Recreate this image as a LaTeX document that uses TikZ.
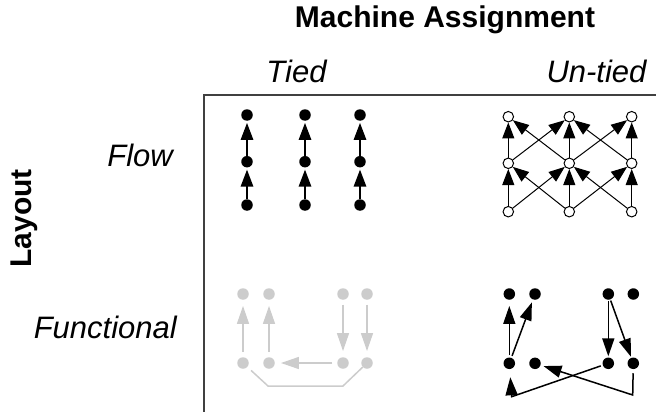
\documentclass[tikz,border=0pt]{standalone}
\usepackage{fontspec}
\setmainfont{Liberation Sans}
\usetikzlibrary{arrows.meta}
\definecolor{lightg}{HTML}{CCCCCC}
\definecolor{framec}{HTML}{404040}
\begin{document}
\begin{tikzpicture}[x=1pt,y=-1pt,
  lbl/.style={font=\fontsize{31}{36}\selectfont\itshape, inner sep=0},
  blbl/.style={font=\fontsize{30}{35}\selectfont\bfseries, inner sep=0},
  dot/.style={circle,fill=black,inner sep=0,minimum size=11.5pt},
  gdot/.style={circle,fill=lightg,inner sep=0,minimum size=11.5pt},
  odot/.style={circle,draw=black,fill=white,line width=1pt,inner sep=0,minimum size=10.5pt},
  tarr/.style={-{Triangle[length=17pt,width=12.5pt]}, line width=1.5pt, shorten >=2pt},
  uarr/.style={-{Triangle[length=16pt,width=12pt]}, line width=1pt},
  garr/.style={-{Triangle[length=18pt,width=12pt]}, line width=1.5pt, draw=lightg, fill=lightg, shorten >=6pt, shorten <=5pt},
  farr/.style={-{Triangle[length=18pt,width=12pt]}, line width=1.5pt},
  gline/.style={line width=1.5pt, draw=lightg},
  frame/.style={line width=1.6pt, draw=framec}]
\useasboundingbox (0,0) rectangle (656,412);

% labels
\node[blbl, anchor=base] (title) at (445,28) {Machine Assignment};
\node[lbl, anchor=base] (tied) at (296.5,83) {Tied};
\node[lbl, anchor=base] (untied) at (596.5,83) {Un-tied};
\node[blbl, anchor=base, rotate=90] (layout) at (31,218.5) {Layout};
\node[lbl, anchor=base east] (flow) at (173,166) {Flow};
\node[lbl, anchor=base east] (functional) at (177,338) {Functional};

% frame
\coordinate (fbl) at (204,412);
\coordinate (ftl) at (204,95);
\coordinate (ftr) at (656,95);
\draw[frame] (fbl) -- (ftl) -- (ftr);

% Tied / Flow
\foreach \c/\x in {1/247,2/305,3/360}{
  \node[dot] (tt\c) at (\x,115) {};
  \node[dot] (tm\c) at (\x,161.7) {};
  \node[dot] (tb\c) at (\x,205) {};
  \draw[tarr] (tb\c) -- (tm\c);
  \draw[tarr] (tm\c) -- (tt\c);
}

% Un-tied / Flow
\foreach \c/\x in {1/508.3,2/569.3,3/631.7}{
  \node[odot] (ut\c) at (\x,116.7) {};
  \node[odot] (um\c) at (\x,163.3) {};
  \node[odot] (ub\c) at (\x,211.7) {};
}
\foreach \a/\b in {1/1,1/2,2/1,2/2,2/3,3/2,3/3}{
  \draw[uarr] (ub\a) -- (um\b);
  \draw[uarr] (um\a) -- (ut\b);
}

% Tied / Functional (grey)
\foreach \c/\x in {1/243,2/269,3/343,4/367}{
  \node[gdot] (gt\c) at (\x,294) {};
  \node[gdot] (gb\c) at (\x,363) {};
}
\draw[garr] (gb1) -- (gt1);
\draw[garr] (gb2) -- (gt2);
\draw[garr] (gt3) -- (gb3);
\draw[garr] (gt4) -- (gb4);
\draw[garr] (gb3) -- (gb2);
\coordinate (gc1) at (268,386);
\coordinate (gc2) at (343,386);
\draw[gline, shorten <=5pt] (gb1) -- (gc1) -- (gc2) -- (gb4);

% Un-tied / Functional
\foreach \c/\x in {1/509.3,2/535,3/608.3,4/633.3}{
  \node[dot] (ft\c) at (\x,294) {};
  \node[dot] (fb\c) at (\x,363.3) {};
}
\draw[farr, shorten >=6pt, shorten <=2pt] (fb1) -- (ft1);
\draw[farr, shorten >=3pt, shorten <=2pt] (fb1) -- (ft2);
\draw[farr, shorten >=1pt, shorten <=1pt] (ft3) -- (fb3);
\draw[farr, shorten >=1pt, shorten <=1pt] (ft3) -- (fb4);
\coordinate (fc1) at (511.7,396.7);
\draw[farr, shorten >=8pt, shorten <=2pt] (fb3) -- (fc1) -- (fb1);
\coordinate (fc2) at (632.7,395);
\draw[farr, shorten >=3pt, shorten <=4pt] (fb4) -- (fc2) -- (fb2);
\end{tikzpicture}
\end{document}
